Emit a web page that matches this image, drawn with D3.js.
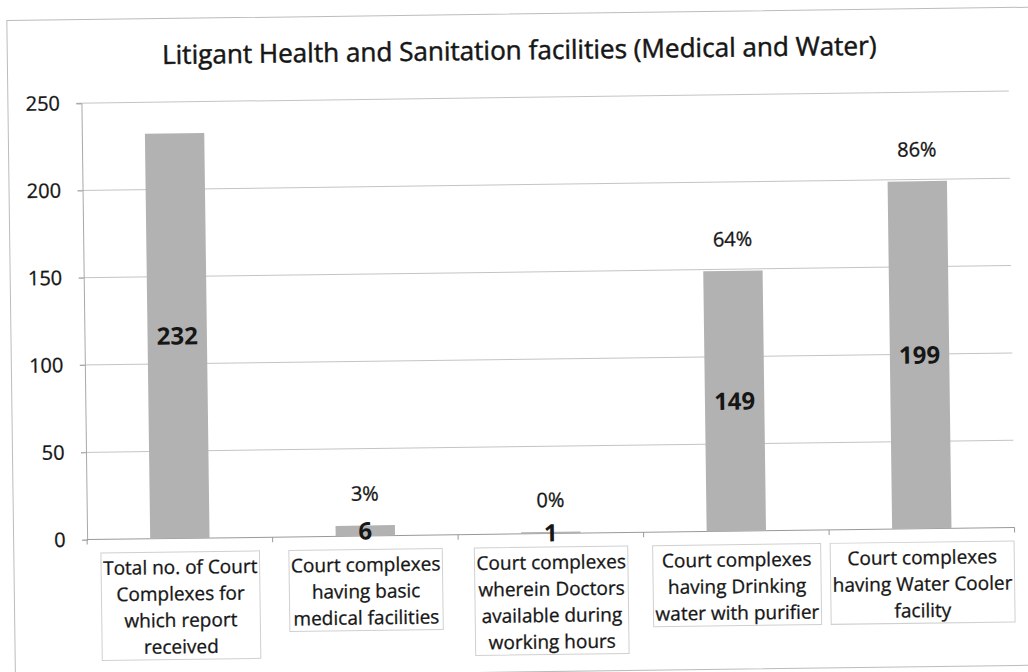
<!DOCTYPE html>
<html>
<head>
<meta charset="utf-8">
<script src="https://cdn.jsdelivr.net/npm/d3@7"></script>
<style>
  html, body { margin: 0; padding: 0; background: #ffffff; }
  svg { display: block; }
  text { font-family: "Open Sans", "DejaVu Sans", sans-serif; fill: #161616; }
  .heavy { stroke: #161616; stroke-width: 0.3px; }
</style>
</head>
<body>
<svg id="chart" width="1028" height="672"></svg>
<script>
// ---- data ----
const title = "Litigant Health and Sanitation facilities (Medical and Water)";
const categories = [
  "Total no. of Court\nComplexes for\nwhich report\nreceived",
  "Court complexes\nhaving basic\nmedical facilities",
  "Court complexes\nwherein Doctors\navailable during\nworking hours",
  "Court complexes\nhaving Drinking\nwater with purifier",
  "Court complexes\nhaving Water Cooler\nfacility"
];
const values = [232, 6, 1, 149, 199];
const percentLabels = ["", "3%", "0%", "64%", "86%"];
const yTicks = [0, 50, 100, 150, 200, 250];

// ---- layout ----
const W = 1028, H = 672;
const plot = { left: 84.5, right: 1012, top: 97.5, bottom: 534 };

const svg = d3.select("#chart");
svg.append("rect").attr("width", W).attr("height", H).attr("fill", "#fff");

// the scanned reference is tilted slightly
const root = svg.append("g").attr("transform", "rotate(-0.75, 514, 336)");

// outer frame
root.append("rect")
  .attr("x", 11).attr("y", 14).attr("width", 1040).attr("height", 658)
  .attr("fill", "none").attr("stroke", "#bcbcbc").attr("stroke-width", 1);

const y = d3.scaleLinear().domain([0, 250]).range([plot.bottom, plot.top]);
const x = d3.scaleBand().domain(categories)
  .range([plot.left, plot.right])
  .paddingInner(0.68).paddingOuter(0.34);

// gridlines
root.append("g").selectAll("line")
  .data(yTicks.filter(d => d > 0))
  .join("line")
  .attr("x1", plot.left - 5).attr("x2", plot.right)
  .attr("y1", d => y(d)).attr("y2", d => y(d))
  .attr("stroke", "#c4c4c4").attr("stroke-width", 1);

// y axis
const yAxis = root.append("g")
  .attr("transform", `translate(${plot.left},0)`)
  .call(d3.axisLeft(y).tickValues(yTicks).tickSize(5).tickPadding(16.5));
yAxis.select(".domain").attr("stroke", "#a8a8a8");
yAxis.selectAll(".tick line").attr("stroke", "#a8a8a8");
yAxis.selectAll(".tick text")
  .style("font-family", '"Open Sans", sans-serif')
  .attr("class", "heavy")
  .attr("font-size", 20).attr("fill", "#1c1c1c");

// x axis line + boundary ticks
const xAxis = root.append("g")
  .attr("transform", `translate(0,${plot.bottom})`)
  .call(d3.axisBottom(x).tickSize(0).tickFormat(""));
xAxis.select(".domain").attr("stroke", "#999").attr("d", `M${plot.left},0H${plot.right}`);
const boundaries = d3.range(categories.length + 1).map(i => plot.left + i * x.step());
xAxis.selectAll(".bound").data(boundaries).join("line")
  .attr("class", "bound")
  .attr("x1", d => d).attr("x2", d => d).attr("y1", 0).attr("y2", 5)
  .attr("stroke", "#999");

// bars
root.append("g").selectAll("rect")
  .data(values)
  .join("rect")
  .attr("x", (d, i) => x(categories[i]))
  .attr("width", x.bandwidth())
  .attr("y", d => y(d))
  .attr("height", d => y(0) - y(d))
  .attr("fill", "#b2b2b2");

// value labels (inside bars)
root.append("g").selectAll("text")
  .data(values)
  .join("text")
  .attr("x", (d, i) => x(categories[i]) + x.bandwidth() / 2)
  .attr("y", d => (y(d) + y(0)) / 2)
  .attr("dy", "0.36em")
  .attr("text-anchor", "middle")
  .attr("font-size", 24).attr("font-weight", "bold")
  .attr("fill", "#111")
  .text(d => d);

// percentage labels (above bars)
root.append("g").selectAll("text")
  .data(percentLabels)
  .join("text")
  .attr("class", "heavy")
  .attr("x", (d, i) => x(categories[i]) + x.bandwidth() / 2)
  .attr("y", (d, i) => y(values[i]) - 32)
  .attr("dy", "0.36em")
  .attr("text-anchor", "middle")
  .attr("font-size", 20)
  .attr("fill", "#1a1a1a")
  .text(d => d);

// category labels with light boxes
const lineH = 26.5;
const firstBase = plot.bottom + 35.5;
const labG = root.append("g");
categories.forEach((c, i) => {
  const g = labG.append("g");
  const t = g.append("text")
    .attr("class", "heavy")
    .attr("text-anchor", "middle")
    .attr("font-size", 19)
    .attr("fill", "#1a1a1a");
  c.split("\n").forEach((ln, j) => {
    t.append("tspan")
      .attr("x", x(c) + x.bandwidth() / 2)
      .attr("y", firstBase + j * lineH)
      .text(ln);
  });
  const bb = t.node().getBBox();
  g.insert("rect", "text")
    .attr("x", bb.x - 2).attr("y", bb.y - 2)
    .attr("width", bb.width + 4).attr("height", bb.height + 2)
    .attr("fill", "none").attr("stroke", "#d0d0d0").attr("stroke-width", 1);
});

// title (fit to reference width)
const tt = root.append("text")
  .attr("class", "heavy")
  .attr("x", 523).attr("y", 59.5)
  .attr("text-anchor", "middle")
  .attr("font-size", 22)
  .attr("fill", "#111")
  .style("stroke-width", "0.5px")
  .text(title);
const tw = tt.node().getComputedTextLength();
tt.attr("font-size", 22 * 715 / tw);
</script>
</body>
</html>
